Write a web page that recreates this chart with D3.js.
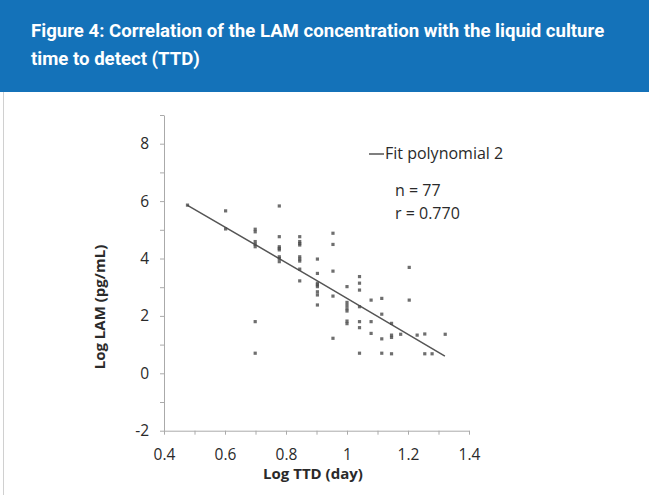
<!DOCTYPE html>
<html>
<head>
<meta charset="utf-8">
<script src="https://cdn.jsdelivr.net/npm/d3@7"></script>
<style>
  body { margin: 0; background: #fff; }
  svg { display: block; }
  .axis path, .axis line { stroke: #aaa; }
  .axis text { font-family: "Open Sans", sans-serif; font-size: 15.5px; fill: #2a2a2a; }
</style>
</head>
<body>
<svg width="649" height="495"></svg>
<script>
// Data
var ttd = [0.477, 0.602, 0.602,
  0.699, 0.699, 0.699, 0.699, 0.699, 0.699, 0.699,
  0.778, 0.778, 0.778, 0.778, 0.778, 0.778, 0.778, 0.778,
  0.845, 0.845, 0.845, 0.845, 0.845, 0.845, 0.845, 0.845, 0.845,
  0.903, 0.903, 0.903, 0.903, 0.903, 0.903, 0.903, 0.903,
  0.954, 0.954, 0.954, 0.954, 0.954,
  1.0, 1.0, 1.0, 1.0, 1.0, 1.0, 1.0,
  1.041, 1.041, 1.041, 1.041, 1.041, 1.041, 1.041,
  1.079, 1.079, 1.079,
  1.114, 1.114, 1.114, 1.114,
  1.146, 1.146, 1.146, 1.146,
  1.176, 1.204, 1.204, 1.230, 1.255, 1.255, 1.279, 1.322];
var lam = [5.86, 5.66, 5.03,
  5.02, 4.93, 4.59, 4.49, 4.41, 1.80, 0.70,
  5.83, 4.76, 4.41, 4.35, 4.30, 4.06, 4.00, 3.89,
  4.76, 4.59, 4.52, 4.47, 4.06, 3.98, 3.91, 3.63, 3.22,
  3.98, 3.48, 3.14, 3.08, 3.02, 2.84, 2.73, 2.38,
  4.88, 4.49, 3.56, 2.69, 1.22,
  3.02, 2.47, 2.36, 2.25, 2.17, 1.82, 1.73,
  3.37, 3.14, 2.90, 2.32, 1.80, 1.59, 0.70,
  2.55, 1.80, 1.39,
  2.61, 2.06, 1.20, 0.70,
  1.74, 1.33, 1.25, 0.68,
  1.36, 3.69, 2.55, 1.33, 1.37, 0.68, 0.68, 1.36];

// fitted curve (as drawn)
var fitX = [0.476, 0.9, 1.321];
var fitY = [5.86, 3.24, 0.60];

var xTicks = [0.4, 0.5, 0.6, 0.7, 0.8, 0.9, 1.0, 1.1, 1.2, 1.3, 1.4];
var xLabels = ["0.4", "", "0.6", "", "0.8", "", "1", "", "1.2", "", "1.4"];
var yTicks = [-2, -1, 0, 1, 2, 3, 4, 5, 6, 7, 8, 9];
var yLabels = ["-2", "", "0", "", "2", "", "4", "", "6", "", "8", ""];

var svg = d3.select("svg"),
    width = +svg.attr("width"),
    height = +svg.attr("height");

// header
svg.append("rect")
    .attr("x", 0).attr("y", 0)
    .attr("width", width).attr("height", 92)
    .attr("fill", "#1472b9");

svg.append("line")
    .attr("x1", 3.5).attr("x2", 3.5)
    .attr("y1", 92).attr("y2", height)
    .attr("stroke", "#d0d0d0");

var title = svg.append("text")
    .attr("font-family", "Roboto, sans-serif")
    .attr("font-weight", "bold")
    .attr("font-size", 18.6)
    .attr("fill", "#fff");
title.append("tspan").attr("x", 31).attr("y", 37)
    .text("Figure 4: Correlation of the LAM concentration with the liquid culture");
title.append("tspan").attr("x", 31).attr("y", 65)
    .text("time to detect (TTD)");

// scales
var x = d3.scaleLinear().domain([0.4, 1.4]).range([164, 469]);
var y = d3.scaleLinear().domain([-2, 9]).range([430.7, 115]);

var g = svg.append("g");

// axes
g.append("g")
    .attr("class", "axis")
    .attr("transform", "translate(164,0)")
    .call(d3.axisLeft(y)
        .tickValues(yTicks)
        .tickFormat((d, i) => yLabels[i])
        .tickSize(4)
        .tickSizeOuter(0)
        .tickPadding(11));

g.append("g")
    .attr("class", "axis")
    .attr("transform", "translate(0,430.7)")
    .call(d3.axisBottom(x)
        .tickValues(xTicks)
        .tickFormat((d, i) => xLabels[i])
        .tickSize(4)
        .tickSizeOuter(0)
        .tickPadding(14));

g.selectAll(".axis .domain").attr("stroke", "#aaa");

// axis titles
g.append("text")
    .attr("transform", "translate(105,307) rotate(-90)")
    .attr("text-anchor", "middle")
    .attr("font-family", "Open Sans, sans-serif")
    .attr("font-weight", "bold")
    .attr("font-size", 15)
    .attr("fill", "#2a2a2a")
    .text("Log LAM (pg/mL)");

g.append("text")
    .attr("x", 313).attr("y", 479)
    .attr("text-anchor", "middle")
    .attr("font-family", "Open Sans, sans-serif")
    .attr("font-weight", "bold")
    .attr("font-size", 15)
    .attr("fill", "#2a2a2a")
    .text("Log TTD (day)");

// fit line
var line = d3.line()
    .x(d => x(d[0]))
    .y(d => y(d[1]))
    .curve(d3.curveMonotoneX);

g.append("path")
    .datum(fitX.map((v, i) => [v, fitY[i]]))
    .attr("d", line)
    .attr("fill", "none")
    .attr("stroke", "#555")
    .attr("stroke-width", 1.5);

// points
g.selectAll("rect.pt")
    .data(ttd)
    .enter()
    .append("rect")
        .attr("class", "pt")
        .attr("x", (d, i) => x(d) - 1.6)
        .attr("y", (d, i) => y(lam[i]) - 1.6)
        .attr("width", 3.2)
        .attr("height", 3.2)
        .attr("fill", "#4a4a4a")
        .attr("opacity", 0.8);

// legend
g.append("line")
    .attr("x1", 369).attr("x2", 384)
    .attr("y1", 154).attr("y2", 154)
    .attr("stroke", "#555")
    .attr("stroke-width", 1.5);

var lt = g.append("g")
    .attr("font-family", "Open Sans, sans-serif")
    .attr("font-size", 16)
    .attr("fill", "#2a2a2a");
lt.append("text").attr("x", 385).attr("y", 159).text("Fit polynomial 2");
lt.append("text").attr("x", 395).attr("y", 196).text("n = 77");
lt.append("text").attr("x", 395).attr("y", 219).text("r = 0.770");
</script>
</body>
</html>
